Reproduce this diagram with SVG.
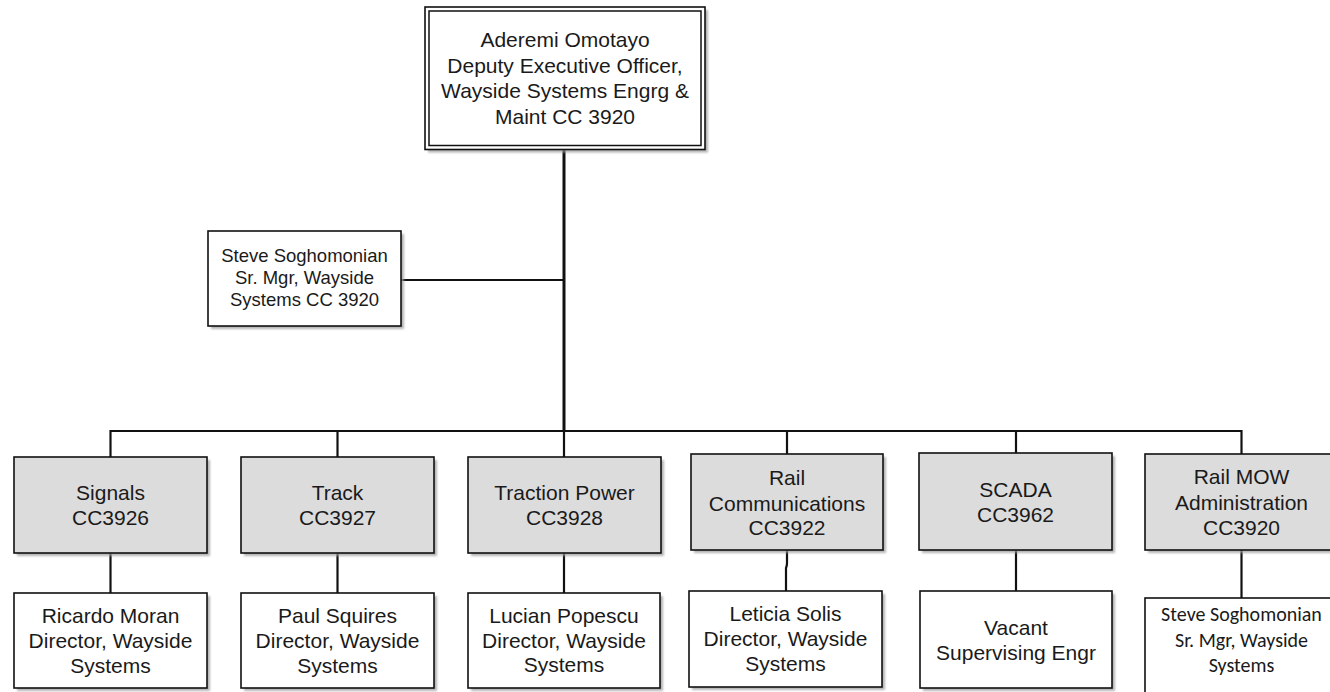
<svg xmlns="http://www.w3.org/2000/svg" width="1330" height="692" viewBox="0 0 1330 692">
<defs>
<filter id="blur" x="-10%" y="-10%" width="120%" height="120%"><feGaussianBlur stdDeviation="1"/></filter>
<style>
.sh{fill:#9c9c9c;opacity:.75;filter:url(#blur)}
.box{fill:#ffffff;stroke:#111;stroke-width:1.6}
.grey{fill:#dcdcdc;stroke:#111;stroke-width:1.6}
.dbl{fill:none;stroke:#111;stroke-width:1.5}
text{font-family:"Liberation Sans",Arial,sans-serif;font-size:21px;fill:#1a1a1a;text-anchor:middle}
.sm{font-size:18.5px}
.cal{font-family:Carlito,Lato,sans-serif;font-size:20px}
.ln{stroke:#111;stroke-width:2.2;fill:none}
.thick{stroke:#111;stroke-width:3;fill:none}
</style>
</defs>
<rect width="1330" height="692" fill="#fff"/>
<g id="connectors">
<line class="thick" x1="564" y1="149" x2="564" y2="431"/>
<line class="ln" x1="401" y1="280" x2="564" y2="280"/>
<line class="ln" x1="110.5" y1="431" x2="1241.5" y2="431"/>
<line class="ln" x1="110.5" y1="430" x2="110.5" y2="457"/>
<line class="ln" x1="337.5" y1="431" x2="337.5" y2="457"/>
<line class="ln" x1="564" y1="431" x2="564" y2="457"/>
<line class="ln" x1="787" y1="431" x2="787" y2="454"/>
<line class="ln" x1="1016" y1="431" x2="1016" y2="453"/>
<line class="ln" x1="1241.5" y1="430" x2="1241.5" y2="454"/>
<line class="ln" x1="110.5" y1="553" x2="110.5" y2="593"/>
<line class="ln" x1="337.5" y1="553" x2="337.5" y2="593"/>
<line class="ln" x1="564" y1="553" x2="564" y2="593"/>
<path class="ln" d="M787 550 V563 Q787 566 786 568 V591"/>
<line class="ln" x1="1016" y1="550" x2="1016" y2="591"/>
<line class="ln" x1="1241.5" y1="550" x2="1241.5" y2="598"/>
</g>
<g id="top">
<rect class="sh" x="428" y="10" width="280" height="142.5"/>
<rect class="box" x="425" y="7" width="280" height="142.5"/>
<rect class="dbl" x="429" y="11" width="272" height="134.5"/>
<text x="565" y="46.7">Aderemi Omotayo</text>
<text x="565" y="72.5">Deputy Executive Officer,</text>
<text x="565" y="98">Wayside Systems Engrg &amp;</text>
<text x="565" y="124">Maint CC 3920</text>
</g>
<g id="steve1">
<rect class="sh" x="211" y="234" width="193" height="95"/>
<rect class="box" x="208" y="231" width="193" height="95"/>
<text class="sm" x="304.5" y="262">Steve Soghomonian</text>
<text class="sm" x="304.5" y="284">Sr. Mgr, Wayside</text>
<text class="sm" x="304.5" y="306">Systems CC 3920</text>
</g>
<g id="signals">
<rect class="sh" x="17" y="460" width="193" height="96"/>
<rect class="grey" x="14" y="457" width="193" height="96"/>
<text x="110.5" y="500">Signals</text>
<text x="110.5" y="525">CC3926</text>
</g>
<g id="track">
<rect class="sh" x="244" y="460" width="193" height="96"/>
<rect class="grey" x="241" y="457" width="193" height="96"/>
<text x="337.5" y="500">Track</text>
<text x="337.5" y="525">CC3927</text>
</g>
<g id="traction">
<rect class="sh" x="471" y="460" width="193" height="96"/>
<rect class="grey" x="468" y="457" width="193" height="96"/>
<text x="564.5" y="500">Traction Power</text>
<text x="564.5" y="525">CC3928</text>
</g>
<g id="railcomm">
<rect class="sh" x="694" y="457" width="192" height="96"/>
<rect class="grey" x="691" y="454" width="192" height="96"/>
<text x="787" y="485">Rail</text>
<text x="787" y="510.5">Communications</text>
<text x="787" y="535">CC3922</text>
</g>
<g id="scada">
<rect class="sh" x="922" y="456" width="193" height="97"/>
<rect class="grey" x="919" y="453" width="193" height="97"/>
<text x="1015.5" y="497">SCADA</text>
<text x="1015.5" y="522">CC3962</text>
</g>
<g id="railmow">
<rect class="sh" x="1148" y="457" width="193" height="96"/>
<rect class="grey" x="1145" y="454" width="193" height="96"/>
<text x="1241.5" y="484">Rail MOW</text>
<text x="1241.5" y="510">Administration</text>
<text x="1241.5" y="535">CC3920</text>
</g>
<g id="ricardo">
<rect class="sh" x="17" y="596" width="193" height="95"/>
<rect class="box" x="14" y="593" width="193" height="95"/>
<text x="110.5" y="623">Ricardo Moran</text>
<text x="110.5" y="648">Director, Wayside</text>
<text x="110.5" y="673">Systems</text>
</g>
<g id="paul">
<rect class="sh" x="244" y="596" width="193" height="95"/>
<rect class="box" x="241" y="593" width="193" height="95"/>
<text x="337.5" y="623">Paul Squires</text>
<text x="337.5" y="648">Director, Wayside</text>
<text x="337.5" y="673">Systems</text>
</g>
<g id="lucian">
<rect class="sh" x="471" y="596" width="192" height="95"/>
<rect class="box" x="468" y="593" width="192" height="95"/>
<text x="564" y="623">Lucian Popescu</text>
<text x="564" y="648">Director, Wayside</text>
<text x="564" y="672">Systems</text>
</g>
<g id="leticia">
<rect class="sh" x="692" y="594" width="193" height="96"/>
<rect class="box" x="689" y="591" width="193" height="96"/>
<text x="785.5" y="621">Leticia Solis</text>
<text x="785.5" y="646">Director, Wayside</text>
<text x="785.5" y="671">Systems</text>
</g>
<g id="vacant">
<rect class="sh" x="923" y="594" width="192" height="97"/>
<rect class="box" x="920" y="591" width="192" height="97"/>
<text x="1016" y="635">Vacant</text>
<text x="1016" y="660">Supervising Engr</text>
</g>
<g id="steve2">
<rect class="sh" x="1148" y="601" width="193" height="100"/>
<rect class="box" x="1145" y="598" width="193" height="100"/>
<text class="cal" x="1241.5" y="621">Steve Soghomonian</text>
<text class="cal" x="1241.5" y="647">Sr. Mgr, Wayside</text>
<text class="cal" x="1241.5" y="672">Systems</text>
</g>
</svg>
